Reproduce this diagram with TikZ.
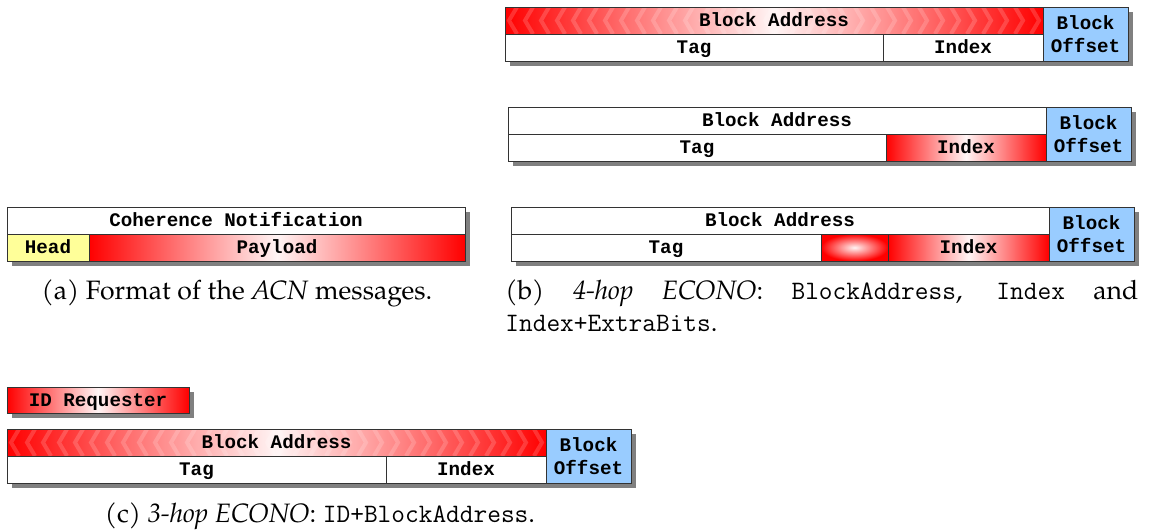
\documentclass[tikz,border=0pt]{standalone}
\usepackage{fontspec}
\setmainfont{TeX Gyre Pagella}
\newfontfamily\boxfont{Liberation Mono}
\setmonofont{Latin Modern Mono}
\tikzset{
  x=0.5pt, y=-0.5pt,
  cellbase/.style={draw=black!80, line width=0.5pt, anchor=north west, inner sep=0pt, outer sep=0pt,
    font=\boxfont\bfseries\fontsize{9.6}{10.5}\selectfont, align=center},
  cell/.style={cellbase, text height=6.1pt, text depth=0pt},
  plain/.style={fill=white},
  redlin/.style={left color=red, right color=red, middle color=red!4},
  redrad/.style={inner color=red!4, outer color=red},
  offsetc/.style={fill=offblue},
  headc/.style={fill=headyellow},
  shadowbox/.style={fill=black!50},
  chev/.style={draw=white, draw opacity=0.17, line width=2pt},
  caption/.style={font=\fontsize{13.3}{16}\selectfont, inner sep=0pt}
}
\definecolor{offblue}{HTML}{99CCFF}
\definecolor{headyellow}{HTML}{FFFF99}
% \cell{name}{x1}{y1}{x2}{y2}{style}{text}
\newcommand\cell[7]{\node[cell,#6,minimum width={(#4-#2)*0.5pt},minimum height={(#5-#3)*0.5pt}] (#1) at (#2,#3) {#7};}
% \offcell{name}{x1}{y1}{x2}{y2}
\newcommand\offcell[5]{\node[cellbase,offsetc,minimum width={(#4-#2)*0.5pt},minimum height={(#5-#3)*0.5pt}] (#1) at (#2,#3) {Block\\[0.7pt]Offset};}
\newcommand\shadowrect[4]{\fill[shadowbox] (#1+5,#2+5) rectangle (#3+5,#4+5);}
% \chevrons{x1}{y1}{x2}{y2}
\newcommand\chevrons[4]{%
  \begin{scope}
  \clip (#1,#2) rectangle (#3,#4);
  \pgfmathsetmacro\cmid{(#1+#3)/2}
  \pgfmathsetmacro\ymid{(#2+#4)/2}
  \foreach \k in {0,...,40}{
    \pgfmathsetmacro\cx{#1+4+\k*16}
    \ifdim\cx pt<\cmid pt
      \draw[chev] (\cx+8,#2) -- (\cx,\ymid) -- (\cx+8,#4);
    \fi
    \pgfmathsetmacro\dx{#3-4-\k*16}
    \ifdim\dx pt>\cmid pt
      \draw[chev] (\dx-8,#2) -- (\dx,\ymid) -- (\dx-8,#4);
    \fi
  }
  \end{scope}}
\begin{document}
\begin{tikzpicture}
\useasboundingbox (0,0) rectangle (1149,530);
% ---------- (b) first
\shadowrect{505}{7}{1128}{61}
\cell{baA}{505}{7}{1043}{34}{redlin}{}
\chevrons{505}{7}{1043}{34}
\node[cell, draw=none, anchor=center] (baAt) at (baA.center) {Block Address};
\draw[black!80, line width=0.5pt] (baA.north west) rectangle (baA.south east);
\cell{tagA}{505}{34}{883}{61}{plain}{Tag}
\cell{idxA}{883}{34}{1043}{61}{plain}{Index}
\offcell{offA}{1043}{7}{1128}{61}
% ---------- (b) second
\shadowrect{508}{107}{1131}{161}
\cell{baB}{508}{107}{1046}{134}{plain}{Block Address}
\cell{tagB}{508}{134}{886}{161}{plain}{Tag}
\cell{idxB}{886}{134}{1046}{161}{redlin}{Index}
\offcell{offB}{1046}{107}{1131}{161}
% ---------- (b) third
\shadowrect{511}{207}{1134}{261}
\cell{baC}{511}{207}{1049}{234}{plain}{Block Address}
\cell{tagC}{511}{234}{821}{261}{plain}{Tag}
\cell{extC}{821}{234}{888}{261}{redrad}{}
\cell{idxC}{888}{234}{1049}{261}{redlin}{Index}
\offcell{offC}{1049}{207}{1134}{261}
% ---------- (a)
\shadowrect{7}{207}{465}{261}
\cell{cohA}{7}{207}{465}{234}{plain}{Coherence Notification}
\cell{headA}{7}{234}{89}{261}{headc}{Head}
\cell{payA}{89}{234}{465}{261}{redlin}{Payload}
% ---------- (c)
\shadowrect{7}{387}{189}{413}
\cell{idR}{7}{387}{189}{413}{redlin}{ID Requester}
\shadowrect{7}{429}{631}{483}
\cell{baD}{7}{429}{546}{456}{redlin}{}
\chevrons{7}{429}{546}{456}
\node[cell, draw=none, anchor=center] (baDt) at (baD.center) {Block Address};
\draw[black!80, line width=0.5pt] (baD.north west) rectangle (baD.south east);
\cell{tagD}{7}{456}{386}{483}{plain}{Tag}
\cell{idxD}{386}{456}{546}{483}{plain}{Index}
\offcell{offD}{546}{429}{631}{483}
% ---------- captions
\node[caption] (capA) at (237,293.5) {(a) Format of the \textit{ACN} messages.};
\node[caption, anchor=west] (capB1) at (505,293.5) {\makebox[316.5pt][s]{(b) \textit{4-hop ECONO}: \texttt{BlockAddress}, \texttt{Index} and}};
\node[caption, anchor=west] (capB2) at (505,323.5) {\texttt{Index+ExtraBits}.};
\node[caption] (capC) at (320,516) {(c) \textit{3-hop ECONO}: \texttt{ID+BlockAddress}.};
\end{tikzpicture}
\end{document}
